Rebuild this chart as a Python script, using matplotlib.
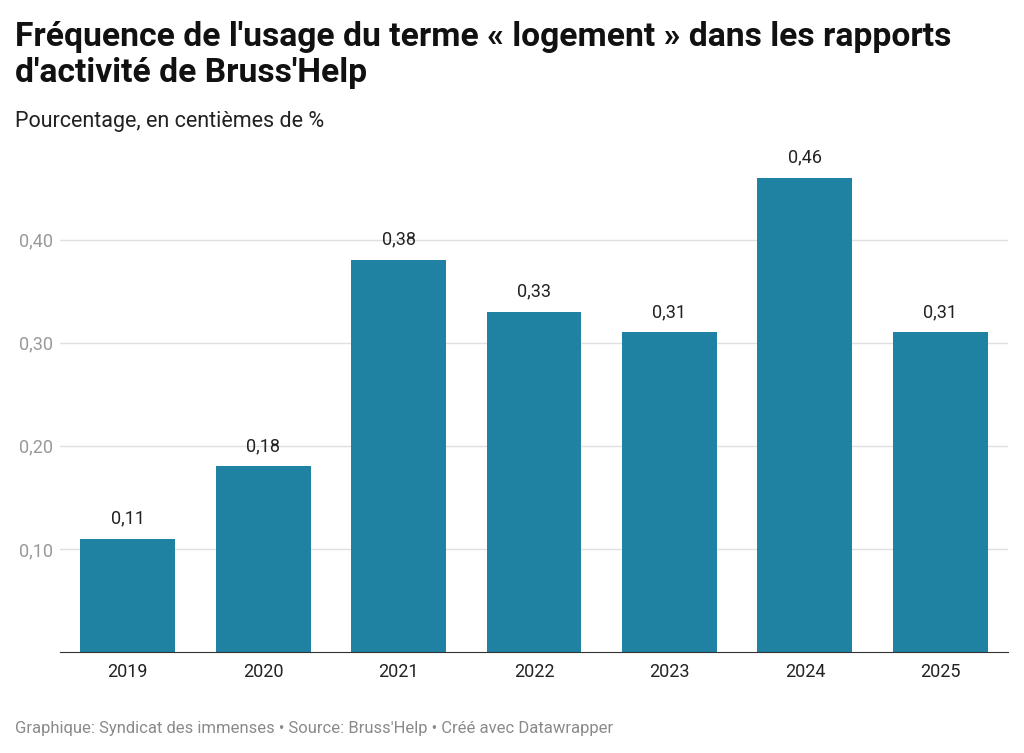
import matplotlib.pyplot as plt

plt.rcParams['font.family'] = ['Roboto', 'DejaVu Sans']

years = ['2019', '2020', '2021', '2022', '2023', '2024', '2025']
values = [0.11, 0.18, 0.38, 0.33, 0.31, 0.46, 0.31]
yticks = [0.10, 0.20, 0.30, 0.40]

fig = plt.figure(figsize=(10.24, 7.53), dpi=100)
ax = fig.add_axes([0.0586, 0.134, 0.9258, 0.6575])

x = range(len(years))
ax.bar(x, values, width=0.70, color='#1f82a2', zorder=2)
for i, v in enumerate(values):
    ax.text(i, v + 0.011, f'{v:.2f}'.replace('.', ','), ha='center', va='bottom',
            fontsize=13, color='#222222')

ax.set_xlim(-0.5, len(years) - 0.5)
ax.set_ylim(0, 0.48)
ax.set_xticks(list(x))
ax.set_xticklabels(years, fontsize=13, color='#222222')
ax.set_yticks(yticks)
ax.set_yticklabels([f'{t:.2f}'.replace('.', ',') for t in yticks], fontsize=13, color='#999999')
ax.tick_params(axis='y', length=0, pad=5)
ax.tick_params(axis='x', length=0, pad=8)
ax.grid(axis='y', color='#e0e0e0', linewidth=1, zorder=0)
for s in ['top', 'right', 'left']:
    ax.spines[s].set_visible(False)
ax.spines['bottom'].set_color('#333333')

fig.text(0.0146, 0.972, "Fréquence de l'usage du terme « logement » dans les rapports\nd'activité de Bruss'Help",
         fontsize=24.2, fontweight='bold', va='top', ha='left', color='#111111', linespacing=1.15)
fig.text(0.0146, 0.852, 'Pourcentage, en centièmes de %', fontsize=15.5, va='top', color='#222222')
fig.text(0.0146, 0.022, "Graphique: Syndicat des immenses • Source: Bruss'Help • Créé avec Datawrapper",
         fontsize=12, color='#8a8a8a', va='bottom')

fig.savefig('out.png', dpi=100)
